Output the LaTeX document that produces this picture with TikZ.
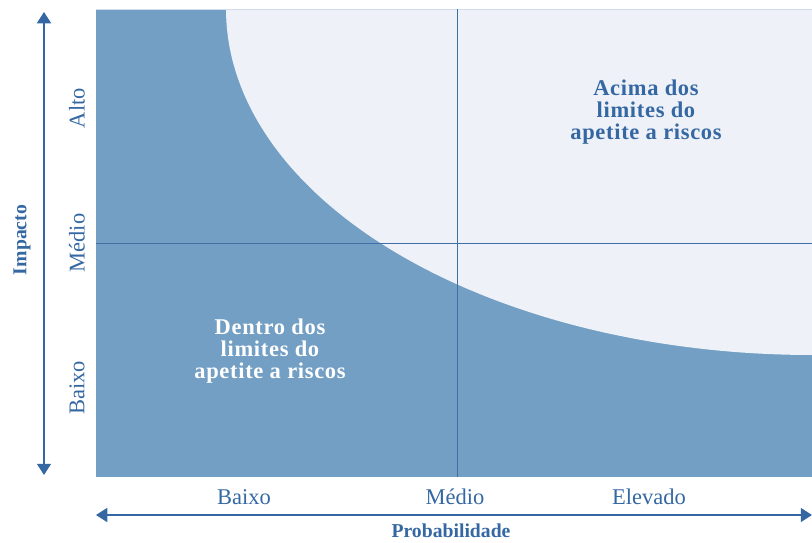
\documentclass[tikz,border=0pt]{standalone}
\usepackage{fontspec}
\setmainfont{Liberation Serif}
\usetikzlibrary{arrows.meta}

\definecolor{riskdark}{HTML}{729FC3}
\definecolor{risklight}{HTML}{EEF2F8}
\definecolor{riskline}{HTML}{3F6FA5}
\definecolor{riskedge}{HTML}{CFDDEC}
\definecolor{risktext}{HTML}{3568A3}

\tikzset{
  axisarrow/.style = {draw = risktext, line width = 1pt, {Triangle[length=8pt,width=10pt]}-{Triangle[length=8pt,width=10pt]}},
  ticklabel/.style = {text = risktext, font = \fontsize{16}{16}\selectfont, inner sep = 0pt},
  axistitle/.style = {text = risktext, font = \fontsize{14}{14}\selectfont\bfseries, inner sep = 0pt},
  zonetext/.style = {font = \fontsize{16}{15.6}\selectfont\bfseries\addfontfeatures{LetterSpace=3}, align = center, inner sep = 0pt}
}

\begin{document}
\begin{tikzpicture}[x = 0.025cm, y = -0.025cm]
    \useasboundingbox (0,0) rectangle (812,542);

    % chart area
    \fill[riskdark] (96,9) rectangle (812,477);
    \fill[risklight] (812,9) -- plot[domain = 0:90, samples = 80, smooth] ({812-586*cos(\x)},{9+346*sin(\x)}) -- cycle;
    \draw[riskedge, thin] (96,9) -- (812,9);

    % quadrant lines
    \coordinate (vtop) at (457,9);
    \coordinate (vbot) at (457,477);
    \coordinate (hleft) at (96,243);
    \coordinate (hright) at (812,243);
    \draw[riskline, line width = 0.7pt] (vtop) -- (vbot);
    \draw[riskline, line width = 0.7pt] (hleft) -- (hright);

    % axes
    \coordinate (ytop) at (44,12);
    \coordinate (ybot) at (44,475);
    \coordinate (xleft) at (96,515);
    \coordinate (xright) at (812,515);
    \draw[axisarrow] (ybot) -- (ytop);
    \draw[axisarrow] (xleft) -- (xright);

    \node[axistitle, rotate = 90] (impacto) at (22,240) {Impacto};
    \node[axistitle] (prob) at (451,531) {Probabilidade};

    \node[ticklabel, rotate = 90] (yalto) at (77,108) {Alto};
    \node[ticklabel, rotate = 90] (ymedio) at (77,243) {Médio};
    \node[ticklabel, rotate = 90] (ybaixo) at (77,388) {Baixo};

    \node[ticklabel] (xbaixo) at (244,497) {Baixo};
    \node[ticklabel] (xmedio) at (455,497) {Médio};
    \node[ticklabel] (xelevado) at (649,497) {Elevado};

    % zones
    \node[zonetext, text = risktext] (acima) at (646,112) {Acima dos\\limites do\\apetite a riscos};
    \node[zonetext, text = white] (dentro) at (270,351) {Dentro dos\\limites do\\apetite a riscos};
\end{tikzpicture}
\end{document}
